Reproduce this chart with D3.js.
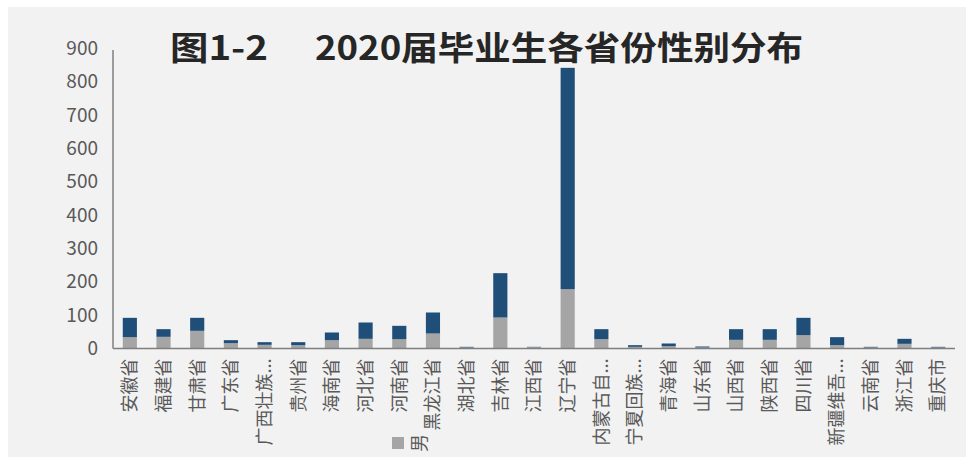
<!DOCTYPE html>
<html>
<head>
<meta charset="utf-8">
<script src="https://cdn.jsdelivr.net/npm/d3@7/dist/d3.min.js"></script>
<style>
html,body{margin:0;padding:0;background:#fff;}
svg{display:block;}
</style>
</head>
<body>
<svg id="chart" width="966" height="457"></svg>
<script>
const categories = ["安徽省","福建省","甘肃省","广东省","广西壮族...","贵州省","海南省","河北省","河南省","黑龙江省","湖北省","吉林省","江西省","辽宁省","内蒙古自...","宁夏回族...","青海省","山东省","山西省","陕西省","四川省","新疆维吾...","云南省","浙江省","重庆市"];
const male   = [34,35,53,16,11,10,25,29,28,45,3,93,4,178,28,5,7,3,26,26,40,10,3,14,3];
const female = [58,23,39,9,8,9,23,49,40,63,2,133,1,664,30,5,8,3,32,32,52,24,2,15,2];
const yTicks = [0,100,200,300,400,500,600,700,800,900];
const seriesNames = ["男","女"];
const colors = ["#a5a5a5","#1f4e79"];
const titleA = "图1-2";
const titleB = "2020届毕业生各省份性别分布";

const svg = d3.select("#chart");
const font = "'Noto Sans CJK SC','Noto Sans',sans-serif";

svg.append("rect").attr("x",8).attr("y",7).attr("width",958).attr("height",450).attr("fill","#f2f2f2");

const x = d3.scaleBand().domain(categories).range([113,955]).paddingInner(0.58).paddingOuter(0.29);
const y = d3.scaleLinear().domain([0,900]).range([348.5,48.5]);

const rows = categories.map((c,i)=>({cat:c, 男:male[i], 女:female[i]}));
const stack = d3.stack().keys(seriesNames)(rows);

svg.append("g").selectAll("g").data(stack).join("g")
  .attr("fill",(d,i)=>colors[i])
  .selectAll("rect").data(d=>d).join("rect")
  .attr("x",d=>x(d.data.cat))
  .attr("width",x.bandwidth())
  .attr("y",d=>y(d[1]))
  .attr("height",d=>y(d[0])-y(d[1]));

// axes
const yAxis = d3.axisLeft(y).tickValues(yTicks).tickSize(0).tickPadding(15);
const gy = svg.append("g").attr("transform","translate(113,0)").call(yAxis);
gy.select(".domain").attr("stroke","#7f7f7f").attr("stroke-width",1.5).attr("d","M0,50V348.5");
gy.selectAll("text").attr("font-family",font).attr("font-size",19).attr("fill","#595959");

const xAxis = d3.axisBottom(x).tickSize(0).tickPadding(0);
const gx = svg.append("g").attr("transform","translate(0,348.5)").call(xAxis);
gx.select(".domain").attr("stroke","#7f7f7f").attr("stroke-width",1.5).attr("d","M113,0H955");
gx.selectAll("text")
  .attr("font-family",font).attr("font-size",18).attr("fill","#595959")
  .attr("text-anchor","end").attr("dy","0.35em")
  .attr("transform","translate(0,10) rotate(-90)").attr("x",0).attr("y",0);

// legend (partially visible)
svg.append("rect").attr("x",392).attr("y",437).attr("width",12).attr("height",12).attr("fill",colors[0]);
svg.append("text").attr("font-family",font).attr("font-size",18).attr("fill","#595959")
  .attr("text-anchor","middle").attr("dy","0.35em")
  .attr("transform","translate(420,443) rotate(-90)").text(seriesNames[0]);

// title
svg.append("text").attr("x",170).attr("y",60).attr("font-family",font).attr("font-weight","bold")
  .attr("font-size",33).attr("fill","#262626").attr("textLength",98).attr("lengthAdjust","spacingAndGlyphs").text(titleA);
svg.append("text").attr("x",315).attr("y",60).attr("font-family",font).attr("font-weight","bold")
  .attr("font-size",33).attr("fill","#262626").attr("textLength",488).attr("lengthAdjust","spacingAndGlyphs").text(titleB);
</script>
</body>
</html>
